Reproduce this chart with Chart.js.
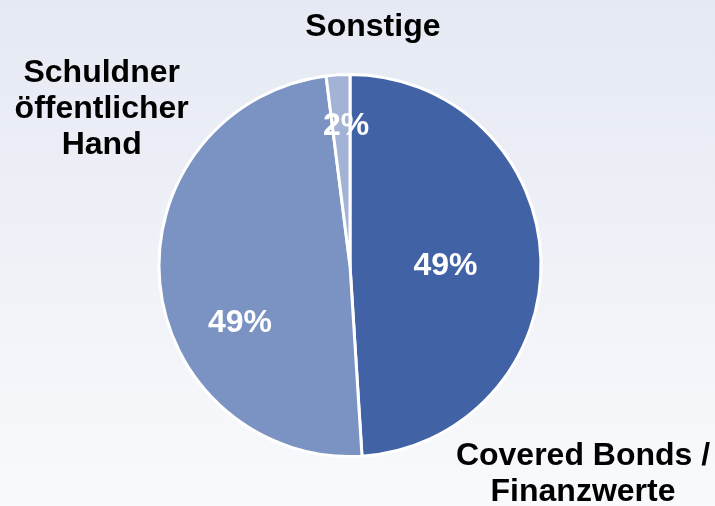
<!DOCTYPE html>
<html lang="de">
  <head>
    <meta charset="UTF-8" />
    <script src="https://cdn.jsdelivr.net/npm/chart.js@4.4.1/dist/chart.umd.min.js"></script>
    <title>Portfolio</title>
    <style>
      html, body { margin: 0; padding: 0; }
      body {
        width: 715px;
        height: 506px;
        background: linear-gradient(to bottom, #e5e9f3 0%, #f0f2f8 55%, #f9fafc 100%);
        overflow: hidden;
      }
      #wrap { position: relative; width: 715px; height: 506px; }
    </style>
  </head>
  <body>
    <div id="wrap"><canvas id="pie"></canvas></div>

    <script>
      // data
      var labels = [["Covered Bonds /", "Finanzwerte"], ["Schuldner", "öffentlicher", "Hand"], ["Sonstige"]];
      var values = [49, 49, 2];
      var colors = ["#4262a6", "#7a93c3", "#a3b3d5"];

      // where the texts sit, in units of the pie radius from its centre
      var inPos = [[0.5, 0.005], [-0.576, 0.30], [-0.02, -0.73]];
      var outPos = [[1.22, 1.09], [-1.30, -0.82], [0.12, -1.25]];

      var labelPlugin = {
        id: "pieLabels",
        afterDatasetsDraw: function (chart) {
          var ctx = chart.ctx;
          var meta = chart.getDatasetMeta(0);
          ctx.save();
          ctx.font = "bold 32px 'Liberation Sans', Arial, sans-serif";
          ctx.textAlign = "center";
          ctx.textBaseline = "middle";
          meta.data.forEach(function (arc, i) {
            var p = arc.getProps(["x", "y", "outerRadius"], true);
            var r = p.outerRadius;
            // value inside
            ctx.fillStyle = "#ffffff";
            ctx.fillText(values[i] + "%", p.x + inPos[i][0] * r, p.y + inPos[i][1] * r);
            // category outside
            ctx.fillStyle = "#000000";
            var lines = labels[i];
            var lh = 36;
            var cx = p.x + outPos[i][0] * r;
            var cy = p.y + outPos[i][1] * r - ((lines.length - 1) * lh) / 2;
            for (var k = 0; k < lines.length; k++) {
              ctx.fillText(lines[k], cx, cy + k * lh);
            }
          });
          ctx.restore();
        },
      };

      new Chart("pie", {
        type: "pie",
        data: {
          labels: labels,
          datasets: [
            {
              data: values,
              backgroundColor: colors,
              borderColor: "#ffffff",
              borderWidth: 3,
            },
          ],
        },
        options: {
          responsive: true,
          maintainAspectRatio: false,
          animation: false,
          layout: { padding: { left: 157, right: 172, top: 73, bottom: 48 } },
          plugins: {
            legend: { display: false },
            tooltip: { enabled: false },
          },
        },
        plugins: [labelPlugin],
      });
    </script>
  </body>
</html>
